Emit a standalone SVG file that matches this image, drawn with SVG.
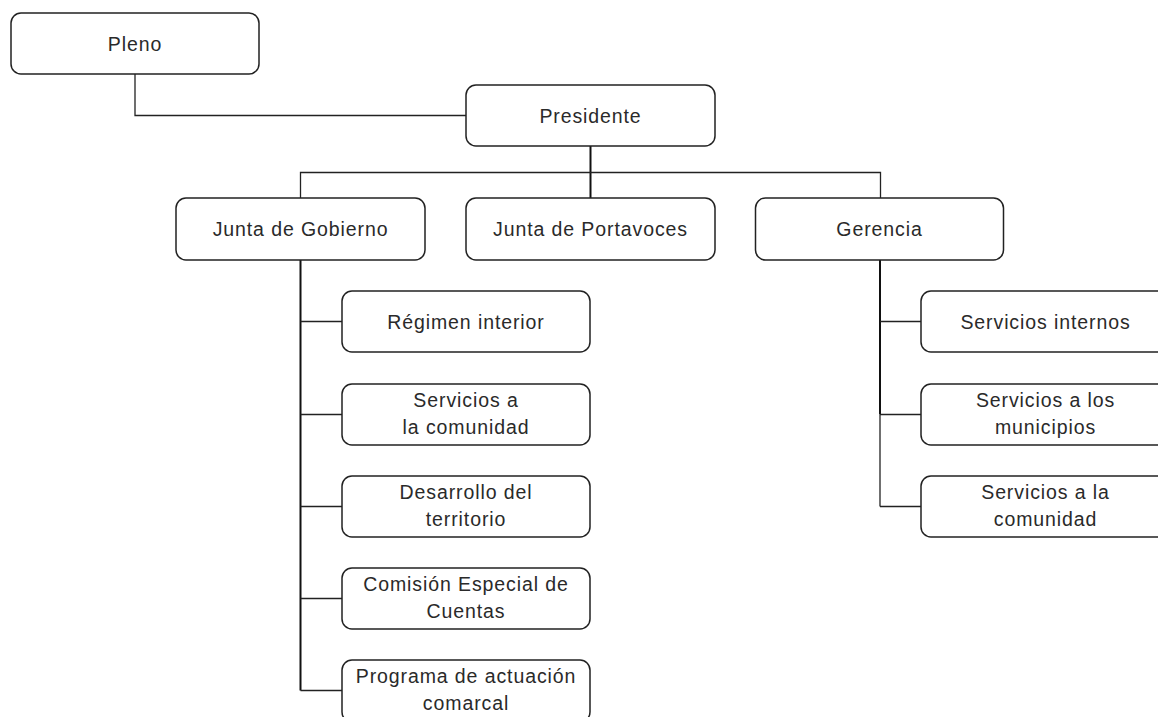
<svg xmlns="http://www.w3.org/2000/svg" width="1158" height="717" viewBox="0 0 1158 717">
<style>
.box{fill:#fff;stroke:#222;stroke-width:1.5}
.t{font-family:"Liberation Sans",Arial,sans-serif;font-size:19.5px;letter-spacing:0.9px;fill:#2a2a2a;text-anchor:middle}
.c{fill:none;stroke:#222;stroke-width:1.3}
.trunk{fill:none;stroke:#111;stroke-width:2}
</style>
<rect width="1158" height="717" fill="#fff"/>
<g id="connectors">
<polyline class="c" points="135,74 135,115.5 466,115.5"/>
<line class="trunk" x1="590.5" y1="146" x2="590.5" y2="198"/>
<polyline class="c" points="300.5,198 300.5,172.5 880.5,172.5 880.5,198"/>
<line class="trunk" x1="300.5" y1="260" x2="300.5" y2="690.5"/>
<line class="c" x1="300.5" y1="321.5" x2="342" y2="321.5"/>
<line class="c" x1="300.5" y1="414.5" x2="342" y2="414.5"/>
<line class="c" x1="300.5" y1="506.5" x2="342" y2="506.5"/>
<line class="c" x1="300.5" y1="598.5" x2="342" y2="598.5"/>
<line class="c" x1="300.5" y1="690.5" x2="342" y2="690.5"/>
<line class="trunk" x1="880" y1="260" x2="880" y2="414"/>
<line class="c" x1="880" y1="414" x2="880" y2="506.5"/>
<line class="c" x1="880" y1="321.5" x2="921" y2="321.5"/>
<line class="c" x1="880" y1="414.5" x2="921" y2="414.5"/>
<line class="c" x1="880" y1="506.5" x2="921" y2="506.5"/>
</g>
<g id="pleno"><rect class="box" x="11" y="13" width="248" height="61" rx="10"/><text class="t" x="135" y="50.5">Pleno</text></g>
<g id="presidente"><rect class="box" x="466" y="85" width="249" height="61" rx="10"/><text class="t" x="590.5" y="122.5">Presidente</text></g>
<g id="junta-gobierno"><rect class="box" x="176" y="198" width="249" height="62" rx="10"/><text class="t" x="300.5" y="236">Junta de Gobierno</text></g>
<g id="junta-portavoces"><rect class="box" x="466" y="198" width="249" height="62" rx="10"/><text class="t" x="590.5" y="236">Junta de Portavoces</text></g>
<g id="gerencia"><rect class="box" x="755.5" y="198" width="248" height="62" rx="10"/><text class="t" x="879.5" y="236">Gerencia</text></g>
<g id="regimen"><rect class="box" x="342" y="291" width="248" height="61" rx="10"/><text class="t" x="466" y="329">Régimen interior</text></g>
<g id="servicios-comunidad-1"><rect class="box" x="342" y="384" width="248" height="61" rx="10"/><text class="t" x="466" y="407">Servicios a</text><text class="t" x="466" y="434">la comunidad</text></g>
<g id="desarrollo"><rect class="box" x="342" y="476" width="248" height="61" rx="10"/><text class="t" x="466" y="499">Desarrollo del</text><text class="t" x="466" y="526">territorio</text></g>
<g id="comision"><rect class="box" x="342" y="568" width="248" height="61" rx="10"/><text class="t" x="466" y="591">Comisión Especial de</text><text class="t" x="466" y="618">Cuentas</text></g>
<g id="programa"><rect class="box" x="342" y="660" width="248" height="62" rx="10"/><text class="t" x="466" y="683">Programa de actuación</text><text class="t" x="466" y="710">comarcal</text></g>
<g id="servicios-internos"><rect class="box" x="921" y="291" width="249" height="61" rx="10"/><text class="t" x="1045.5" y="329">Servicios internos</text></g>
<g id="servicios-municipios"><rect class="box" x="921" y="384" width="249" height="61" rx="10"/><text class="t" x="1045.5" y="407">Servicios a los</text><text class="t" x="1045.5" y="434">municipios</text></g>
<g id="servicios-comunidad-2"><rect class="box" x="921" y="476" width="249" height="61" rx="10"/><text class="t" x="1045.5" y="499">Servicios a la</text><text class="t" x="1045.5" y="526">comunidad</text></g>
</svg>
